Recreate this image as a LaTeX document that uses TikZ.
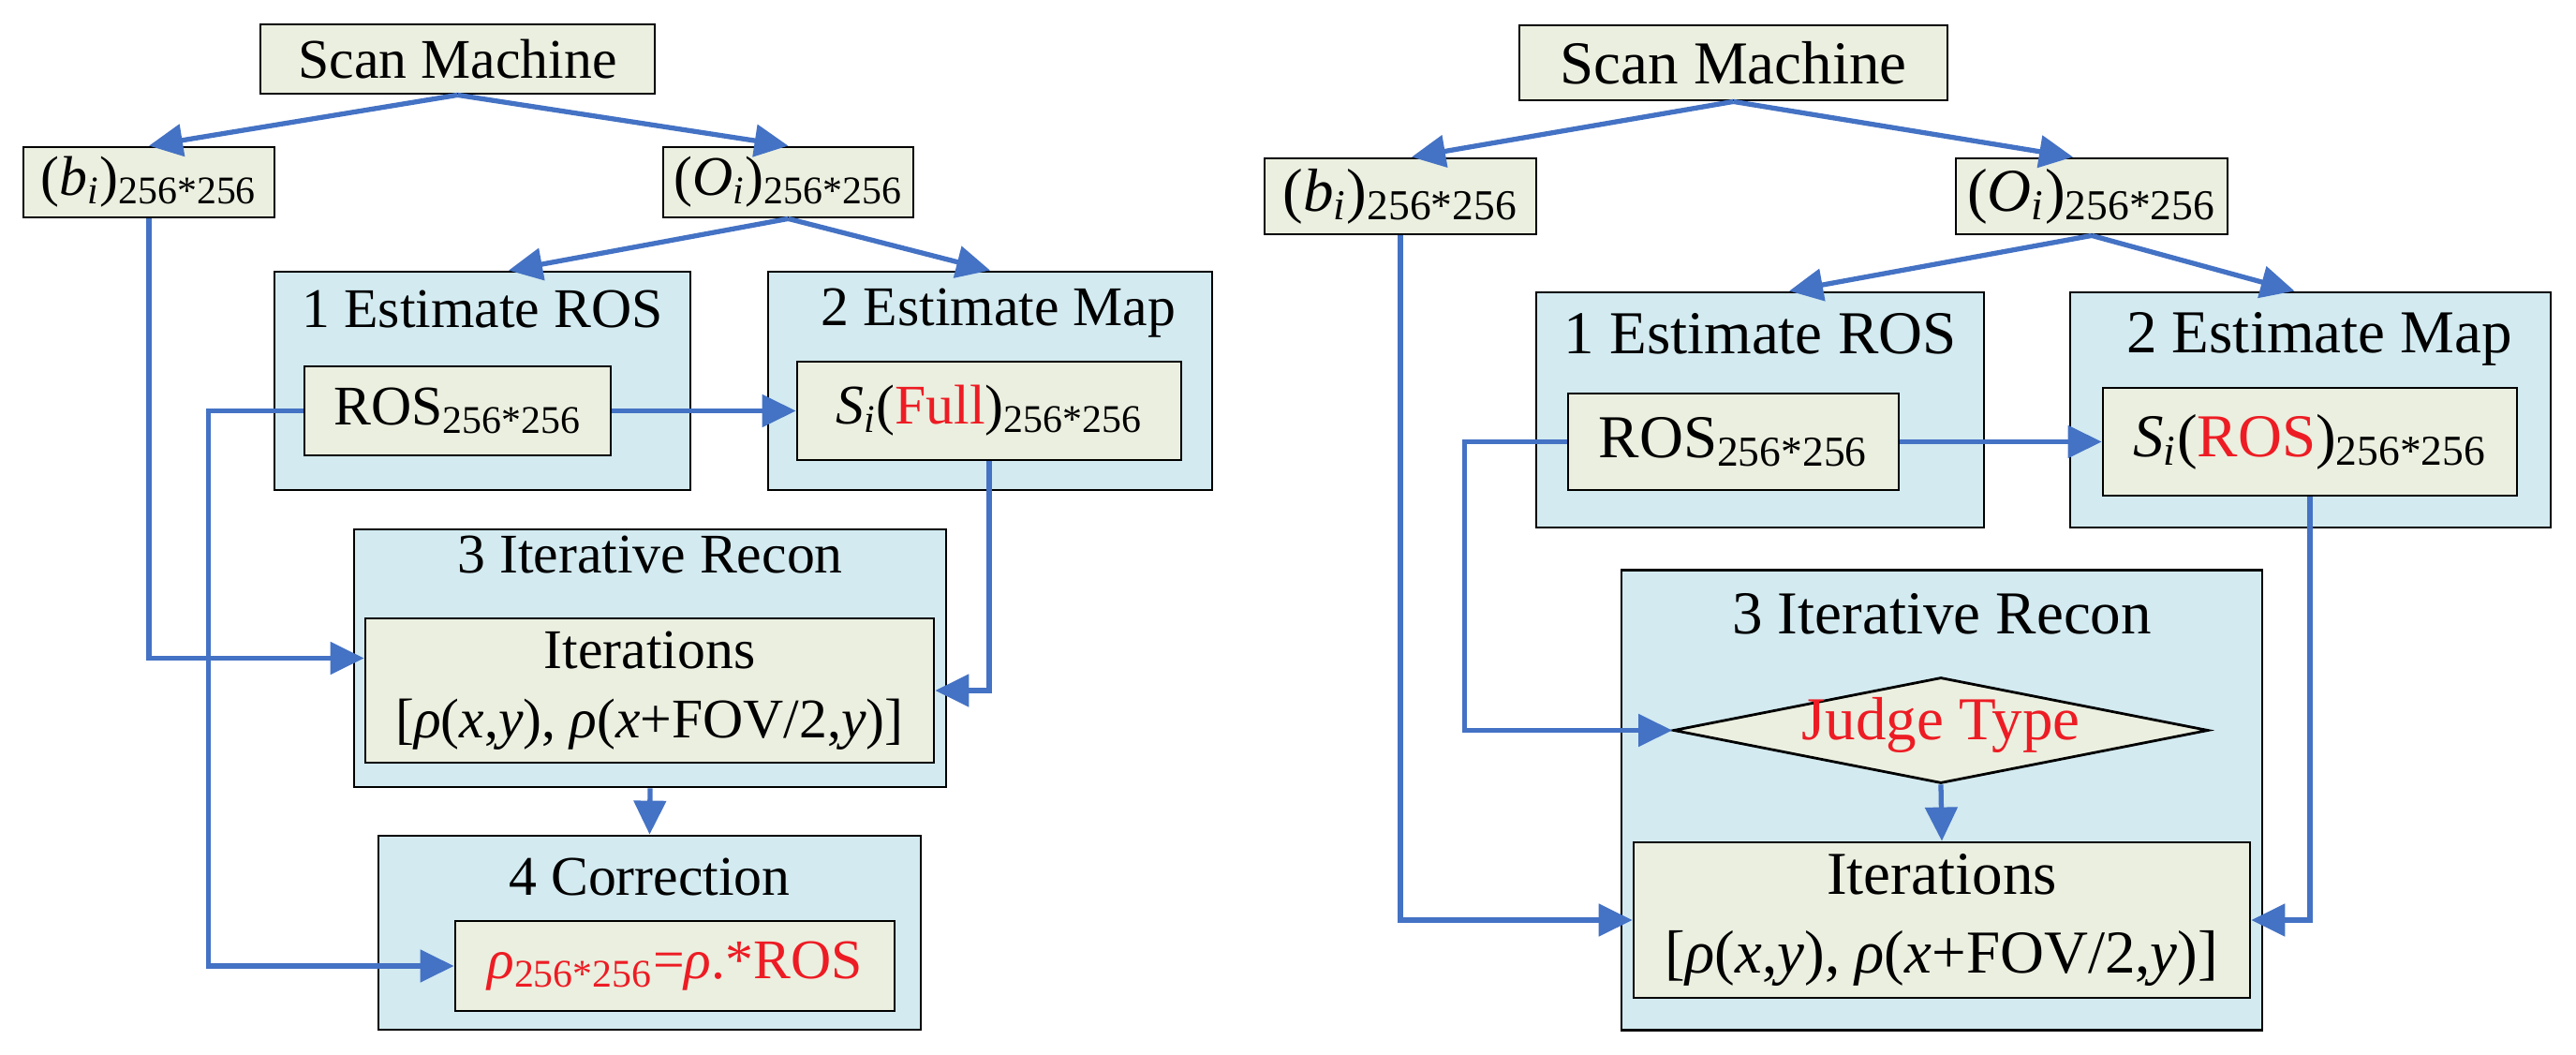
\documentclass[tikz,border=0pt]{standalone}
\usepackage{fontspec}
\setmainfont{Liberation Serif}
\usetikzlibrary{arrows.meta,shapes.geometric}
\definecolor{boxgreen}{HTML}{EBEFDF}
\definecolor{panelblue}{HTML}{D2EAF0}
\definecolor{linkblue}{HTML}{4472C4}
\definecolor{txtred}{HTML}{ED1C24}
\newcommand{\sbs}[1]{\textsubscript{#1}}
\tikzset{
    panel/.style={draw=black, fill=panelblue, line width=0.8pt, inner sep=0pt},
    box/.style={draw=black, fill=boxgreen, line width=0.8pt, inner sep=0pt, align=center},
    judge/.style={diamond, aspect=5.05, draw=black, fill=boxgreen, line width=0.8pt, inner sep=0pt, text height=0.3cm, text depth=0.1cm},
    head/.style={inner sep=0pt},
    link/.style={draw=linkblue, line width=1.5pt, >={Triangle[length=0.36cm,width=0.34cm]}},
    leftfont/.style={font=\fontsize{17}{21}\selectfont},
    rightfont/.style={font=\fontsize{18.5}{24}\selectfont}
}

\begin{document}
\begin{tikzpicture}
        \useasboundingbox (0,0) rectangle (27.5,-11.26);

        % left chart: full map
        \begin{scope}[every node/.append style={leftfont}]
        \node[box, minimum width=4.21cm, minimum height=0.74cm] (scanL) at (4.885,-0.63) {Scan Machine};
        \node[box, minimum width=2.68cm, minimum height=0.75cm] (bL) at (1.59,-1.945) {(\textit{b}\sbs{\textit{i}})\sbs{256*256}};
        \node[box, minimum width=2.67cm, minimum height=0.75cm] (oL) at (8.415,-1.945) {(\textit{O}\sbs{\textit{i}})\sbs{256*256}};

        \node[panel, minimum width=4.44cm, minimum height=2.33cm] (p1L) at (5.15,-4.065) {};
        \node[head] (h1L) at (5.15,-3.30) {1 Estimate ROS};
        \node[box, minimum width=3.27cm, minimum height=0.95cm] (rosL) at (4.885,-4.385) {ROS\sbs{256*256}};

        \node[panel, minimum width=4.74cm, minimum height=2.33cm] (p2L) at (10.57,-4.065) {};
        \node[head] (h2L) at (10.66,-3.34) {2 Estimate Map};
        \node[box, minimum width=4.10cm, minimum height=1.05cm] (siL) at (10.56,-4.385) {\textit{S}\sbs{\textit{i}}(\textcolor{txtred}{Full})\sbs{256*256}};

        \node[panel, minimum width=6.32cm, minimum height=2.75cm] (p3L) at (6.94,-7.025) {};
        \node[head] (h3L) at (6.94,-5.92) {3 Iterative Recon};
        \node[box, minimum width=6.07cm, minimum height=1.54cm] (itL) at (6.935,-7.37) {Iterations\\{[}\textit{ρ}(\textit{x},\textit{y}), \textit{ρ}(\textit{x}+FOV/2,\textit{y})]};

        \node[panel, minimum width=5.79cm, minimum height=2.07cm] (p4L) at (6.935,-9.955) {};
        \node[head] (h4L) at (6.935,-9.36) {4 Correction};
        \node[box, minimum width=4.69cm, minimum height=0.96cm] (rhoL) at (7.205,-10.31) {\textcolor{txtred}{\textit{ρ}\sbs{256*256}=\textit{ρ}.*ROS}};
        \end{scope}

        \draw[link, ->] (scanL.south) -- (bL.north);
        \draw[link, ->] (scanL.south) -- (oL.north);
        \draw[link, ->] (oL.south) -- ([xshift=0.28cm]p1L.north);
        \draw[link, ->] (oL.south) -- (p2L.north);
        \draw[link, ->] (rosL.east) -- (siL.west);
        \draw[link, ->] (rosL.west) -- ++(-1.01,0) |- (rhoL.west);
        \draw[link, ->] (bL.south) |- ([yshift=0.345cm]itL.west);
        \draw[link, ->] (siL.south) |- (itL.east);
        \draw[link, ->] (p3L.south) -- (p4L.north);

        % right chart: map inside ROS
        \begin{scope}[every node/.append style={rightfont}]
        \node[box, minimum width=4.57cm, minimum height=0.80cm] (scanR) at (18.505,-0.67) {Scan Machine};
        \node[box, minimum width=2.90cm, minimum height=0.81cm] (bR) at (14.95,-2.095) {(\textit{b}\sbs{\textit{i}})\sbs{256*256}};
        \node[box, minimum width=2.90cm, minimum height=0.81cm] (oR) at (22.33,-2.095) {(\textit{O}\sbs{\textit{i}})\sbs{256*256}};

        \node[panel, minimum width=4.78cm, minimum height=2.51cm] (p1R) at (18.79,-4.375) {};
        \node[head] (h1R) at (18.79,-3.56) {1 Estimate ROS};
        \node[box, minimum width=3.53cm, minimum height=1.03cm] (rosR) at (18.505,-4.715) {ROS\sbs{256*256}};

        \node[panel, minimum width=5.13cm, minimum height=2.51cm] (p2R) at (24.665,-4.375) {};
        \node[head] (h2R) at (24.76,-3.62) {2 Estimate Map};
        \node[box, minimum width=4.42cm, minimum height=1.15cm] (siR) at (24.66,-4.715) {\textit{S}\sbs{\textit{i}}(\textcolor{txtred}{ROS})\sbs{256*256}};

        \node[panel, minimum width=6.84cm, minimum height=4.91cm] (p3R) at (20.73,-8.54) {};
        \node[head] (h3R) at (20.73,-6.55) {3 Iterative Recon};
        \node[judge, minimum width=5.71cm, minimum height=1.13cm] (jt) at (20.72,-7.795) {\textcolor{txtred}{Judge Type}};
        \node[box, minimum width=6.58cm, minimum height=1.66cm] (itR) at (20.73,-9.82) {Iterations\\{[}\textit{ρ}(\textit{x},\textit{y}), \textit{ρ}(\textit{x}+FOV/2,\textit{y})]};
        \end{scope}

        \draw[link, ->] (scanR.south) -- ([xshift=0.12cm]bR.north);
        \draw[link, ->] (scanR.south) -- ([xshift=-0.2cm]oR.north);
        \draw[link, ->] (oR.south) -- ([xshift=0.31cm]p1R.north);
        \draw[link, ->] (oR.south) -- ([xshift=-0.17cm]p2R.north);
        \draw[link, ->] (rosR.east) -- (siR.west);
        \draw[link, ->] (rosR.west) -- ++(-1.09,0) |- (jt.west);
        \draw[link, ->] (bR.south) |- (itR.west);
        \draw[link, ->] (siR.south) |- (itR.east);
        \draw[link, ->] (jt.south) -- (itR.north);
\end{tikzpicture}
\end{document}
